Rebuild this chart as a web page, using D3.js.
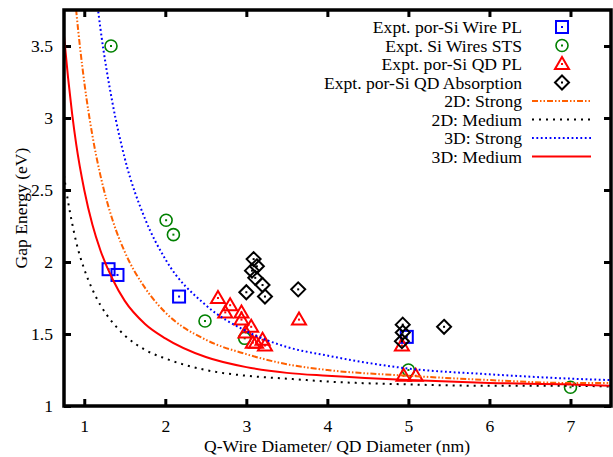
<!DOCTYPE html>
<html>
<head>
<meta charset="utf-8">
<script src="https://cdn.jsdelivr.net/npm/d3@7"></script>
<style>
  body { margin: 0; background: #fff; }
  text { font-family: "Liberation Serif", "Times New Roman", serif; }
</style>
</head>
<body>
<svg id="chart" width="613" height="457"></svg>
<script>
// tick values
const xTicks = [1, 2, 3, 4, 5, 6, 7]
const yTicks = [1, 1.5, 2, 2.5, 3, 3.5]

// experimental points [diameter, gap]
const wirePL = [[1.30, 1.95], [1.41, 1.91], [2.17, 1.76], [4.98, 1.48]]
const wireSTS = [[1.33, 3.50], [2.01, 2.29], [2.10, 2.19], [2.49, 1.59], [2.98, 1.47], [5.00, 1.25], [7.00, 1.13]]
const qdPL = [[2.65, 1.75], [2.80, 1.70], [2.74, 1.65], [2.94, 1.65], [2.94, 1.60], [3.06, 1.55],
              [2.99, 1.51], [3.08, 1.44], [3.12, 1.44], [3.20, 1.46], [3.23, 1.42], [3.65, 1.60],
              [4.92, 1.42], [4.94, 1.21], [5.09, 1.21]]
const qdAbs = [[3.09, 2.02], [3.13, 1.97], [3.07, 1.94], [3.11, 1.89], [3.20, 1.84], [3.00, 1.79],
               [3.23, 1.76], [3.64, 1.81], [4.93, 1.565], [4.93, 1.51], [4.92, 1.45], [5.44, 1.55]]

// model curves
const curveD = [0.75, 0.8, 0.85, 0.9, 1.0, 1.1, 1.2, 1.35, 1.5, 1.75, 2.0, 2.5, 3.0, 3.5, 4.0, 5.0, 6.0, 7.0, 7.5]
const strong2D = [4.90, 4.45, 4.07, 3.75, 3.25, 2.88, 2.60, 2.29, 2.07, 1.82, 1.65, 1.46, 1.36, 1.29, 1.25, 1.21, 1.18, 1.16, 1.16]
const medium2D = [2.60, 2.42, 2.27, 2.14, 1.95, 1.81, 1.70, 1.58, 1.49, 1.39, 1.33, 1.25, 1.21, 1.19, 1.17, 1.15, 1.14, 1.14, 1.135]
const strong3D = [7.52, 6.75, 6.10, 5.56, 4.72, 4.10, 3.62, 3.10, 2.72, 2.30, 2.02, 1.70, 1.52, 1.41, 1.35, 1.26, 1.22, 1.19, 1.18]
const medium3D = [3.57, 3.28, 3.03, 2.82, 2.50, 2.26, 2.08, 1.88, 1.73, 1.57, 1.47, 1.34, 1.27, 1.23, 1.21, 1.18, 1.16, 1.15, 1.14]

const plot = { left: 64, right: 611, top: 10, bottom: 406 }
const fontSize = 17.6

const svg = d3.select('#chart')

const x = d3.scaleLinear().domain([0.75, 7.5]).range([plot.left, plot.right])
const y = d3.scaleLinear().domain([1, 3.75]).range([plot.bottom, plot.top])

svg.append('defs').append('clipPath').attr('id', 'clip')
  .append('rect')
    .attr('x', plot.left).attr('y', plot.top)
    .attr('width', plot.right - plot.left).attr('height', plot.bottom - plot.top)

// axes, ticks inward and mirrored
function styleAxis(g) {
    g.select('.domain').remove()
    g.selectAll('.tick line').attr('stroke', '#000').attr('stroke-width', 3)
    g.selectAll('.tick text').attr('font-size', fontSize).attr('fill', '#000')
}

svg.append('g')
    .attr('transform', `translate(0,${plot.bottom})`)
    .call(d3.axisBottom(x).tickValues(xTicks).tickSize(-7).tickPadding(14).tickFormat(d3.format('d')))
    .call(styleAxis)
svg.append('g')
    .attr('transform', `translate(0,${plot.top})`)
    .call(d3.axisTop(x).tickValues(xTicks).tickSize(-7).tickFormat(''))
    .call(styleAxis)
svg.append('g')
    .attr('transform', `translate(${plot.left},0)`)
    .call(d3.axisLeft(y).tickValues(yTicks).tickSize(-7).tickPadding(11).tickFormat(d => d))
    .call(styleAxis)
svg.append('g')
    .attr('transform', `translate(${plot.right},0)`)
    .call(d3.axisRight(y).tickValues(yTicks).tickSize(-7).tickFormat(''))
    .call(styleAxis)

// symbols
const symbols = {
    square: (g, c) => {
        g.append('rect').attr('x', -6).attr('y', -6).attr('width', 12).attr('height', 12)
          .attr('fill', 'none').attr('stroke', c).attr('stroke-width', 2)
    },
    circle: (g, c) => {
        g.append('circle').attr('r', 6).attr('fill', 'none').attr('stroke', c).attr('stroke-width', 1.6)
    },
    triangle: (g, c) => {
        g.append('path').attr('d', 'M0,-7L7,5L-7,5Z')
          .attr('fill', 'none').attr('stroke', c).attr('stroke-width', 2).attr('stroke-linejoin', 'miter')
    },
    diamond: (g, c) => {
        g.append('path').attr('d', 'M0,-7L7,0L0,7L-7,0Z')
          .attr('fill', 'none').attr('stroke', c).attr('stroke-width', 2)
    }
}

function addSymbol(g, kind, color) {
    symbols[kind](g, color)
    g.append('rect').attr('x', -1).attr('y', -1).attr('width', 2).attr('height', 2).attr('fill', color)
}

const pointSets = [
    { name: 'Expt. por-Si Wire PL', data: wirePL, kind: 'square', color: '#0000ff' },
    { name: 'Expt. Si Wires STS', data: wireSTS, kind: 'circle', color: '#008000' },
    { name: 'Expt. por-Si QD PL', data: qdPL, kind: 'triangle', color: '#ff0000' },
    { name: 'Expt. por-Si QD Absorption', data: qdAbs, kind: 'diamond', color: '#000000' }
]

const lineSets = [
    { name: '2D: Strong', values: strong2D, color: '#ff6000', dash: '6,2,1.5,2,1.5,2', width: 2 },
    { name: '2D: Medium', values: medium2D, color: '#000000', dash: '2,5', width: 2 },
    { name: '3D: Strong', values: strong3D, color: '#0000ff', dash: '1.8,2.6', width: 2 },
    { name: '3D: Medium', values: medium3D, color: '#ff0000', dash: null, width: 2 }
]

const points = svg.append('g').attr('clip-path', 'url(#clip)')
pointSets.forEach(set => {
    points.selectAll(null)
      .data(set.data)
      .enter().append('g')
        .attr('transform', d => `translate(${x(d[0])},${y(d[1])})`)
        .each(function () { addSymbol(d3.select(this), set.kind, set.color) })
})

const line = d3.line()
    .x((d, i) => x(curveD[i]))
    .y(d => y(d))
    .curve(d3.curveMonotoneX)

const curves = svg.append('g').attr('clip-path', 'url(#clip)')
lineSets.forEach(set => {
    curves.append('path')
        .attr('d', line(set.values))
        .attr('fill', 'none')
        .attr('stroke', set.color)
        .attr('stroke-width', set.width)
        .attr('stroke-dasharray', set.dash)
})

// frame
svg.append('rect')
    .attr('x', plot.left).attr('y', plot.top)
    .attr('width', plot.right - plot.left).attr('height', plot.bottom - plot.top)
    .attr('fill', 'none').attr('stroke', '#000').attr('stroke-width', 3.5)

// legend
const legend = svg.append('g')
const rowH = 18.5
const legendTop = 27

pointSets.forEach((set, i) => {
    let row = legend.append('g').attr('transform', `translate(0,${legendTop + i * rowH})`)
    row.append('text').attr('x', 522).attr('dy', '0.35em').attr('text-anchor', 'end')
        .attr('font-size', fontSize).text(set.name)
    let s = row.append('g').attr('transform', 'translate(562,0)')
    addSymbol(s, set.kind, set.color)
})

lineSets.forEach((set, i) => {
    let row = legend.append('g').attr('transform', `translate(0,${legendTop + (i + 4) * rowH})`)
    row.append('text').attr('x', 522).attr('dy', '0.35em').attr('text-anchor', 'end')
        .attr('font-size', fontSize).text(set.name)
    row.append('line').attr('x1', 532).attr('x2', 591)
        .attr('stroke', set.color).attr('stroke-width', set.width)
        .attr('stroke-dasharray', set.dash)
})

// axis titles
svg.append('text')
    .attr('x', 337).attr('y', 452)
    .attr('text-anchor', 'middle').attr('font-size', fontSize)
    .text('Q-Wire Diameter/ QD Diameter (nm)')

svg.append('text')
    .attr('transform', 'translate(21,208) rotate(-90)')
    .attr('text-anchor', 'middle').attr('dy', '0.35em').attr('font-size', fontSize)
    .text('Gap Energy (eV)')
</script>
</body>
</html>
